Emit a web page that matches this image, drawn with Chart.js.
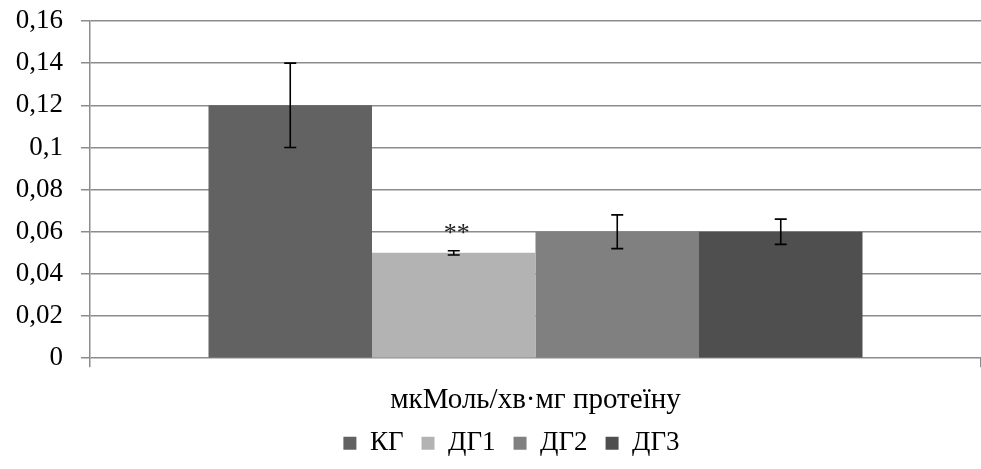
<!DOCTYPE html>
<html>
<head>
<meta charset="utf-8">
<script src="https://cdn.jsdelivr.net/npm/chart.js@4/dist/chart.umd.min.js"></script>
<style>
  html, body { margin: 0; padding: 0; background: #fff; }
  #wrap { width: 981px; height: 469px; }
</style>
</head>
<body>
<div id="wrap"><canvas id="c"></canvas></div>
<script>
// Category and groups
const categories = ['мкМоль/хв·мг протеїну'];
const groupNames = ['КГ', 'ДГ1', 'ДГ2', 'ДГ3'];
// Mean values per group
const groupValues = [0.12, 0.05, 0.06, 0.06];
// Error bar half-ranges per group
const groupErrors = [0.02, 0.001, 0.008, 0.006];
// Significance marks shown above the error bars
const groupMarks = ['', '**', '', ''];
const groupColors = ['#626262', '#b3b3b3', '#808080', '#4f4f4f'];

const FONT = '"Liberation Serif", "Times New Roman", Times, serif';
const LEGEND_FONT = 27;
const LEGEND_PAD = 18;

const errorBars = {
  id: 'errorBars',
  afterDatasetsDraw(chart) {
    const ctx = chart.ctx;
    const y = chart.scales.y;
    ctx.save();
    chart.data.datasets.forEach((ds, i) => {
      const meta = chart.getDatasetMeta(i);
      meta.data.forEach((bar, j) => {
        const v = ds.data[j];
        const e = groupErrors[i];
        const yHi = y.getPixelForValue(v + e);
        const yLo = y.getPixelForValue(v - e);
        const x = bar.x;
        ctx.strokeStyle = '#000';
        ctx.lineWidth = 1.6;
        ctx.beginPath();
        ctx.moveTo(x, yHi); ctx.lineTo(x, yLo);
        ctx.moveTo(x - 6, yHi); ctx.lineTo(x + 6, yHi);
        ctx.moveTo(x - 6, yLo); ctx.lineTo(x + 6, yLo);
        ctx.stroke();
        if (groupMarks[i]) {
          ctx.fillStyle = '#222';
          ctx.font = '26px ' + FONT;
          ctx.textAlign = 'center';
          ctx.textBaseline = 'middle';
          ctx.fillText(groupMarks[i], x + 3, yHi - 17);
        }
      });
    });
    ctx.restore();
  }
};

// Places the legend row below the category label
const legendPlacement = {
  id: 'legendPlacement',
  afterLayout(chart) {
    const lg = chart.legend;
    if (!lg) return;
    const rowHalf = LEGEND_FONT * 1.2 / 2;
    const top = 446 - LEGEND_PAD - rowHalf;
    lg.top = top;
    lg.bottom = top + lg.height;
    lg.left += 21;
    lg.right += 21;
  }
};

new Chart(document.getElementById('c'), {
  type: 'bar',
  data: {
    labels: categories,
    datasets: groupNames.map((name, i) => ({
      label: name,
      data: [groupValues[i]],
      backgroundColor: groupColors[i],
      borderWidth: 0
    }))
  },
  options: {
    responsive: true,
    maintainAspectRatio: false,
    animation: false,
    devicePixelRatio: 1,
    layout: { padding: { top: 0, right: 0, left: 0, bottom: -20 } },
    datasets: { bar: { categoryPercentage: 0.734, barPercentage: 1.0 } },
    scales: {
      x: {
        grid: { display: true, drawOnChartArea: false, color: '#8c8c8c', lineWidth: 1.5, tickLength: 9 },
        border: { display: false },
        ticks: { color: '#000', font: { family: FONT, size: 29 }, padding: 16 }
      },
      y: {
        min: 0,
        max: 0.16,
        afterFit(s) { s.width = 90; s.paddingTop = 21; s.paddingBottom = 0; },
        grid: { color: '#8c8c8c', lineWidth: 1.5, tickLength: 9 },
        border: { display: true, color: '#8c8c8c', width: 1.5 },
        ticks: {
          stepSize: 0.02,
          color: '#000',
          font: { family: FONT, size: 27 },
          padding: 18,
          callback: v => String(Math.round(v * 100) / 100).replace('.', ',')
        }
      }
    },
    plugins: {
      legend: {
        position: 'bottom',
        labels: {
          color: '#000',
          font: { family: FONT, size: LEGEND_FONT },
          boxWidth: 13,
          boxHeight: 13,
          padding: LEGEND_PAD
        }
      },
      tooltip: { enabled: false }
    }
  },
  plugins: [errorBars, legendPlacement]
});
</script>
</body>
</html>
